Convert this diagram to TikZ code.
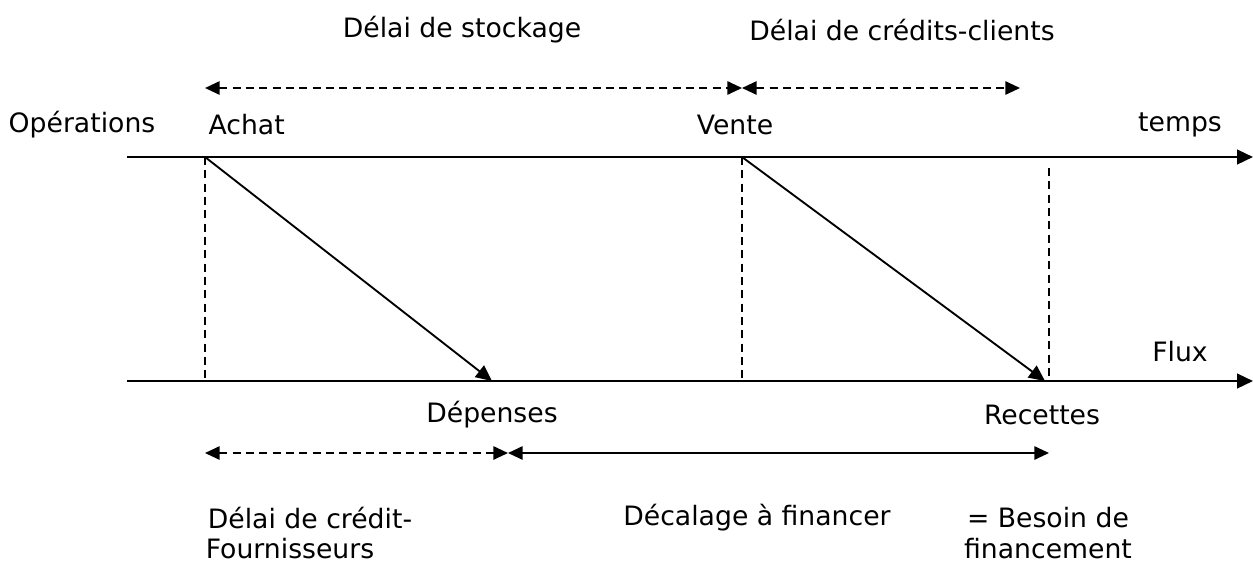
\documentclass[tikz,border=0pt]{standalone}
\usepackage{fontspec}
\setmainfont{DejaVu Sans}
\usetikzlibrary{arrows.meta}
\begin{document}
\begin{tikzpicture}[x=0.75pt,y=-0.75pt,
    lbl/.style={font=\fontsize{20}{24}\selectfont,inner sep=1pt},
    axe/.style={line width=1.8pt,-{Triangle[length=12pt,width=11pt]}},
    fleche/.style={line width=1.4pt,-{Triangle[length=12pt,width=11pt]}},
    duree/.style={line width=1.4pt,{Triangle[length=11pt,width=10pt]}-{Triangle[length=11pt,width=10pt]}},
    tiret/.style={dash pattern=on 6pt off 4pt},
    repere/.style={dash pattern=on 6pt off 4pt,line width=0.9pt}]
      \useasboundingbox (0,0) rectangle (1253,565);
      % axes
      \coordinate (t0) at (127,157);
      \coordinate (t1) at (1253,157);
      \coordinate (f0) at (127,381);
      \coordinate (f1) at (1253,381);
      \draw[axe] (t0) -- (t1);
      \draw[axe] (f0) -- (f1);
      % reperes
      \coordinate (achat) at (205,157);
      \coordinate (vente) at (742,157);
      \coordinate (ach) at (205,381);
      \coordinate (ven) at (742,381);
      \coordinate (reg0) at (1049,168);
      \coordinate (reg) at (1049,381);
      \coordinate (dep) at (492,381);
      \coordinate (rec) at (1045,381);
      \draw[repere] (achat) -- (ach);
      \draw[repere] (vente) -- (ven);
      \draw[repere] (reg0) -- (reg);
      \draw[fleche] (achat) -- (dep);
      \draw[fleche] (vente) -- (rec);
      % delais
      \coordinate (s0) at (205,88);
      \coordinate (s1) at (742,88);
      \coordinate (s2) at (1020,88);
      \coordinate (b0) at (205,453);
      \coordinate (b1) at (508,453);
      \coordinate (b2) at (1049,453);
      \draw[duree,tiret] (s0) -- (s1);
      \draw[duree,tiret] (s1) -- (s2);
      \draw[duree,tiret] (b0) -- (b1);
      \draw[duree] (b1) -- (b2);
      % textes
      \node[lbl] (stock) at (462,30) {Délai de stockage};
      \node[lbl] (clients) at (902,30) {Délai de crédits-clients};
      \node[lbl] (ops) at (82,125) {Opérations};
      \node[lbl,anchor=west] (lachat) at (207,125) {Achat};
      \node[lbl] (lvente) at (735,125) {Vente};
      \node[lbl] (temps) at (1180,125) {temps};
      \node[lbl] (flux) at (1180,352) {Flux};
      \node[lbl] (ldep) at (492,415) {Dépenses};
      \node[lbl] (lrec) at (1042,415) {Recettes};
      \node[lbl] (fourn1) at (310,518) {Délai de crédit-};
      \node[lbl] (fourn2) at (290,549) {Fournisseurs};
      \node[lbl] (decal) at (757,518) {Décalage à financer};
      \node[lbl] (besoin1) at (1048,518) {= Besoin de};
      \node[lbl] (besoin2) at (1048,549) {financement};
\end{tikzpicture}
\end{document}
